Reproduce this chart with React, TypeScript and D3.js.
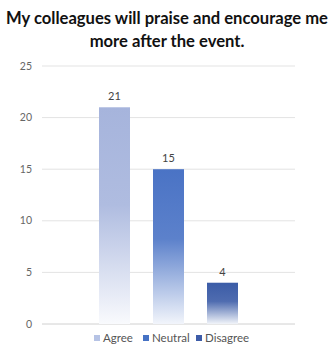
import React from "react";
import * as d3 from "d3";

const titleLines = ["My colleagues will praise and encourage me", "more after the event."];
const series = ["Agree", "Neutral", "Disagree"];
const values = [21, 15, 4];
const yTicks = [0, 5, 10, 15, 20, 25];
const colors = ["#a6b4dc", "#4a73c5", "#3b5ca7"];
const legendColors = ["#b6c3e5", "#4672c4", "#3d5ca8"];

export default function App() {
  const W = 329, H = 349;
  const left = 42, right = 295, top = 66, bottom = 324;
  const y = d3.scaleLinear().domain([0, 25]).range([bottom, top]);
  const cx = (left + right) / 2;
  const x = d3.scaleBand<string>().domain(series).range([cx - 81, cx + 81]).paddingInner(23 / 54).paddingOuter(23 / 108);
  const font = "Lato, 'Open Sans', sans-serif";
  const legendX = [94, 143, 196];
  return (
    <svg width={W} height={H} style={{ position: "absolute", left: 0, top: 0, background: "#fff" }}>
      <defs>
        {series.map((s, i) => (
          <linearGradient key={s} id={`g${i}`} x1="0" y1="0" x2="0" y2="1">
            <stop offset="0" stopColor={colors[i]} />
            <stop offset="0.45" stopColor={d3.interpolateRgb(colors[i], "#ffffff")(0.1)} />
            <stop offset="1" stopColor={d3.interpolateRgb(colors[i], "#ffffff")(0.93)} />
          </linearGradient>
        ))}
      </defs>
      {titleLines.map((t, i) => (
        <text key={i} x={167} y={24 + i * 23} textAnchor="middle" fontFamily={font} fontWeight="bold" fontSize={16.6} fill="#111">
          {t}
        </text>
      ))}
      {yTicks.map((t) => (
        <g key={t}>
          <line x1={left} x2={right} y1={y(t)} y2={y(t)} stroke={t === 0 ? "#d0d0d0" : "#e3e3e3"} strokeWidth={1} />
          <text x={32} y={y(t)} dy="0.35em" textAnchor="end" fontFamily={font} fontSize={10.5} fill="#666">
            {t}
          </text>
        </g>
      ))}
      {series.map((s, i) => (
        <g key={s}>
          <rect x={x(s)} y={y(values[i])} width={x.bandwidth()} height={y(0) - y(values[i])} fill={`url(#g${i})`} />
          <text x={(x(s) as number) + x.bandwidth() / 2} y={y(values[i]) - 7} textAnchor="middle" fontFamily={font} fontSize={11} fill="#444">
            {values[i]}
          </text>
        </g>
      ))}
      {series.map((s, i) => (
        <g key={s}>
          <rect x={legendX[i]} y={335} width={6} height={6} fill={legendColors[i]} />
          <text x={legendX[i] + 9} y={338} dy="0.35em" fontFamily={font} fontSize={11.5} fill="#555">
            {s}
          </text>
        </g>
      ))}
    </svg>
  );
}
